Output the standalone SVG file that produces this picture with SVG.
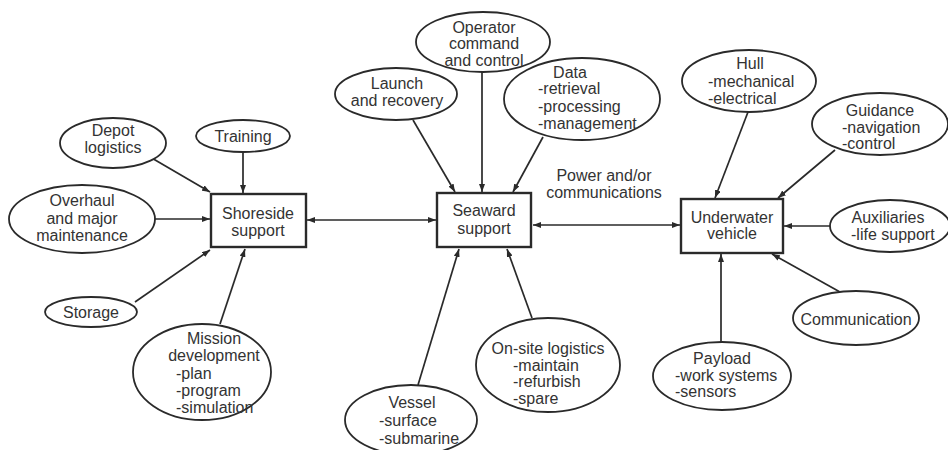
<svg xmlns="http://www.w3.org/2000/svg" width="948" height="450" viewBox="0 0 948 450">
<defs>
<marker id="ah" viewBox="0 0 8 6" refX="8" refY="3" markerWidth="8" markerHeight="6" markerUnits="userSpaceOnUse" orient="auto-start-reverse">
<path d="M0,0 L8,3 L0,6 Z" fill="#2a2a2a"/>
</marker>
<style>
.e{fill:#fff;stroke:#2a2a2a;stroke-width:1.8}
.b{fill:#fff;stroke:#2a2a2a;stroke-width:2.4}
.t{font-family:"Liberation Sans",Arial,sans-serif;font-size:16px;fill:#333}
.c{text-anchor:middle}
.l{stroke:#2a2a2a;stroke-width:1.7;fill:none;marker-end:url(#ah)}
.d{marker-start:url(#ah)}
</style>
</defs>
<rect width="948" height="450" fill="#fff"/>
<g id="connectors">
<line class="l" x1="150" y1="157" x2="210" y2="192"/>
<line class="l" x1="243" y1="152" x2="243" y2="193"/>
<line class="l" x1="155" y1="219" x2="210" y2="219"/>
<line class="l" x1="135" y1="302" x2="210" y2="250"/>
<line class="l" x1="220" y1="324" x2="245" y2="249"/>
<line class="l d" x1="307" y1="220" x2="436" y2="220"/>
<line class="l" x1="413" y1="120" x2="455" y2="192"/>
<line class="l" x1="482" y1="72" x2="482" y2="192"/>
<line class="l" x1="543" y1="137" x2="513" y2="192"/>
<line class="l" x1="418" y1="385" x2="459" y2="249"/>
<line class="l" x1="532" y1="318" x2="507" y2="249"/>
<line class="l d" x1="533" y1="225" x2="680" y2="225"/>
<line class="l" x1="748" y1="112" x2="715" y2="198"/>
<line class="l" x1="835" y1="150" x2="778" y2="198"/>
<line class="l" x1="830" y1="226" x2="784" y2="226"/>
<line class="l" x1="840" y1="292" x2="772" y2="254"/>
<line class="l" x1="721" y1="342" x2="721" y2="254"/>
<text class="t c" x="604" y="181">Power and/or</text>
<text class="t c" x="604" y="198">communications</text>
</g>
<g id="depot"><ellipse class="e" cx="113" cy="143" rx="53" ry="25"/><text class="t c" x="113" y="136">Depot</text><text class="t c" x="113" y="153">logistics</text></g>
<g id="training"><ellipse class="e" cx="243" cy="136" rx="47" ry="16"/><text class="t c" x="243" y="142">Training</text></g>
<g id="overhaul"><ellipse class="e" cx="82" cy="219" rx="73" ry="34"/><text class="t c" x="82" y="206">Overhaul</text><text class="t c" x="82" y="224">and major</text><text class="t c" x="82" y="241">maintenance</text></g>
<g id="storage"><ellipse class="e" cx="91" cy="312" rx="46" ry="15"/><text class="t c" x="91" y="318">Storage</text></g>
<g id="mission"><ellipse class="e" cx="202" cy="372" rx="69" ry="48"/><text class="t c" x="214" y="344">Mission</text><text class="t c" x="214" y="361">development</text><text class="t" x="176" y="379">-plan</text><text class="t" x="176" y="396">-program</text><text class="t" x="176" y="413">-simulation</text></g>
<g id="shoreside"><rect class="b" x="211" y="194" width="95" height="53"/><text class="t c" x="258" y="219">Shoreside</text><text class="t c" x="258" y="236">support</text></g>
<g id="seaward"><rect class="b" x="437" y="193" width="94" height="54"/><text class="t c" x="484" y="216">Seaward</text><text class="t c" x="484" y="234">support</text></g>
<g id="launch"><ellipse class="e" cx="396" cy="94" rx="61" ry="26"/><text class="t c" x="397" y="89">Launch</text><text class="t c" x="397" y="106">and recovery</text></g>
<g id="operator"><ellipse class="e" cx="483" cy="42" rx="67" ry="30"/><text class="t c" x="484" y="33">Operator</text><text class="t c" x="484" y="49">command</text><text class="t c" x="484" y="66">and control</text></g>
<g id="data"><ellipse class="e" cx="582" cy="99" rx="78" ry="41"/><text class="t c" x="570" y="78">Data</text><text class="t" x="538" y="94">-retrieval</text><text class="t" x="538" y="112">-processing</text><text class="t" x="538" y="129">-management</text></g>
<g id="vessel"><ellipse class="e" cx="411" cy="420" rx="66" ry="35"/><text class="t c" x="412" y="408">Vessel</text><text class="t" x="379" y="426">-surface</text><text class="t" x="379" y="444">-submarine</text></g>
<g id="onsite"><ellipse class="e" cx="548" cy="365" rx="72" ry="47"/><text class="t c" x="548" y="354">On-site logistics</text><text class="t" x="513" y="371">-maintain</text><text class="t" x="513" y="387">-refurbish</text><text class="t" x="513" y="404">-spare</text></g>
<g id="underwater"><rect class="b" x="681" y="199" width="102" height="54"/><text class="t c" x="732" y="223">Underwater</text><text class="t c" x="732" y="239">vehicle</text></g>
<g id="hull"><ellipse class="e" cx="749" cy="81" rx="67" ry="31"/><text class="t c" x="750" y="69">Hull</text><text class="t" x="708" y="87">-mechanical</text><text class="t" x="708" y="104">-electrical</text></g>
<g id="guidance"><ellipse class="e" cx="880" cy="124" rx="68" ry="31"/><text class="t c" x="880" y="116">Guidance</text><text class="t" x="842" y="133">-navigation</text><text class="t" x="842" y="149">-control</text></g>
<g id="auxiliaries"><ellipse class="e" cx="890" cy="226" rx="60" ry="26"/><text class="t c" x="888" y="223">Auxiliaries</text><text class="t" x="851" y="240">-life support</text></g>
<g id="communication"><ellipse class="e" cx="856" cy="318" rx="63" ry="27"/><text class="t c" x="856" y="325">Communication</text></g>
<g id="payload"><ellipse class="e" cx="722" cy="376" rx="69" ry="34"/><text class="t c" x="722" y="364">Payload</text><text class="t" x="675" y="381">-work systems</text><text class="t" x="675" y="397">-sensors</text></g>
</svg>
